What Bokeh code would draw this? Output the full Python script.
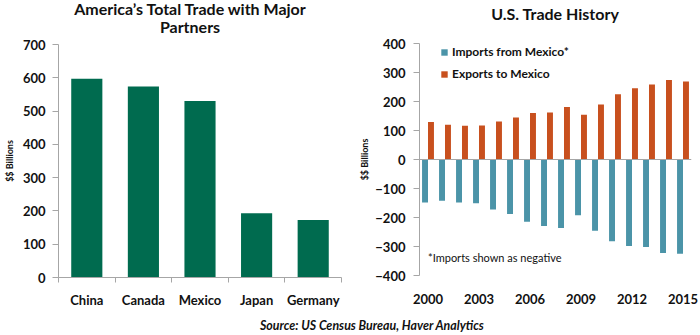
from bokeh.plotting import figure
from bokeh.models import (ColumnDataSource, FixedTicker, Range1d, Span,
                          Legend, LegendItem, Label, Div)
from bokeh.layouts import row, column
from bokeh.embed import file_html
from bokeh.resources import INLINE

# ---- data ----
partners = ["China", "Canada", "Mexico", "Japan", "Germany"]
total_trade = [597, 574, 530, 193, 173]

years = list(range(2000, 2016))
imports_mexico = [-148, -142, -148, -151, -172, -188, -215, -229, -236, -192,
                  -246, -282, -298, -302, -322, -325]
exports_mexico = [129, 120, 116, 117, 131, 145, 160, 162, 181, 154,
                  190, 225, 246, 259, 274, 269]
year_ticks = [2000, 2003, 2006, 2009, 2012, 2015]
left_ticks = [0, 100, 200, 300, 400, 500, 600, 700]
right_ticks = [-400, -300, -200, -100, 0, 100, 200, 300, 400]

FONT = "Lato"
GREEN = "#006B4F"
ORANGE = "#C8501E"
TEAL = "#4B94A8"
AXIS = "#A6A6A6"
TXT = "#111111"
TICK_FS = "13px"


def style_axis(ax):
    ax.major_label_text_font = FONT
    ax.major_label_text_font_style = "bold"
    ax.major_label_text_font_size = TICK_FS
    ax.major_label_text_color = TXT
    ax.axis_label_text_font = FONT
    ax.axis_label_text_font_style = "bold"
    ax.axis_label_text_font_size = "9px"
    ax.axis_label_text_color = TXT


# ---- left chart ----
p1 = figure(width=350, height=276, output_backend="svg", toolbar_location=None,
            x_range=Range1d(0, 5), y_range=Range1d(0, 700),
            min_border_left=56, min_border_right=9, min_border_top=6,
            min_border_bottom=37)
p1.outline_line_color = None
p1.xgrid.visible = False
p1.ygrid.visible = False

src1 = ColumnDataSource(dict(x=[i + 0.5 for i in range(len(partners))],
                             top=total_trade))
p1.vbar(x="x", top="top", width=0.55, bottom=0, source=src1,
        fill_color=GREEN, line_color=None)

p1.xaxis.ticker = FixedTicker(ticks=[i + 0.5 for i in range(len(partners))],
                              minor_ticks=list(range(len(partners) + 1)))
p1.xaxis.major_label_overrides = {i + 0.5: n for i, n in enumerate(partners)}
p1.xaxis.major_tick_line_color = None
p1.xaxis.minor_tick_in = 0
p1.xaxis.minor_tick_out = 5
p1.xaxis.minor_tick_line_color = AXIS
p1.xaxis.axis_line_color = AXIS
p1.xaxis.major_label_standoff = 8

p1.yaxis.ticker = FixedTicker(ticks=left_ticks)
p1.yaxis.minor_tick_line_color = None
p1.yaxis.major_tick_in = 0
p1.yaxis.major_tick_out = 6
p1.yaxis.major_tick_line_color = AXIS
p1.yaxis.axis_line_color = AXIS
p1.yaxis.major_label_standoff = 7
p1.yaxis.axis_label = "$$ Billions"
p1.yaxis.axis_label_standoff = 5
style_axis(p1.xaxis)
style_axis(p1.yaxis)

title1 = Div(text="America\u2019s Total Trade with Major<br>Partners",
             width=300, height=38, margin=(0, 0, 0, 40),
             styles={"font-family": FONT, "font-size": "16px",
                     "font-weight": "bold", "color": TXT,
                     "line-height": "18px", "text-align": "center"})

# ---- right chart ----
p2 = figure(width=350, height=287, output_backend="svg", toolbar_location=None,
            x_range=Range1d(1999.5, 2015.5), y_range=Range1d(-400, 400),
            min_border_left=69, min_border_right=9, min_border_top=15,
            min_border_bottom=40)
p2.outline_line_color = None
p2.xgrid.visible = False
p2.ygrid.visible = False

src2 = ColumnDataSource(dict(x_imp=[y - 0.175 for y in years],
                             x_exp=[y + 0.175 for y in years],
                             imp=imports_mexico, exp=exports_mexico))
r_imp = p2.vbar(x="x_imp", top="imp", bottom=0, width=0.35, source=src2,
                fill_color=TEAL, line_color=None)
r_exp = p2.vbar(x="x_exp", top="exp", bottom=0, width=0.35, source=src2,
                fill_color=ORANGE, line_color=None)
p2.add_layout(Span(location=0, dimension="width", line_color=AXIS,
                   line_width=1))

p2.xaxis.ticker = FixedTicker(ticks=year_ticks)
p2.xaxis.minor_tick_line_color = None
p2.xaxis.major_tick_line_color = None
p2.xaxis.axis_line_color = None
p2.xaxis.major_label_standoff = 12

p2.yaxis.ticker = FixedTicker(ticks=right_ticks)
p2.yaxis.minor_tick_line_color = None
p2.yaxis.major_tick_in = 0
p2.yaxis.major_tick_out = 6
p2.yaxis.major_tick_line_color = AXIS
p2.yaxis.axis_line_color = AXIS
p2.yaxis.major_label_standoff = 8
p2.yaxis.axis_label = "$$ Billions"
p2.yaxis.axis_label_standoff = 2
style_axis(p2.xaxis)
style_axis(p2.yaxis)

title2 = Div(text="U.S. Trade History", width=300, height=28,
             margin=(0, 0, 0, 55),
             styles={"font-family": FONT, "font-size": "16px",
                     "font-weight": "bold", "color": TXT,
                     "line-height": "28px", "text-align": "center"})

legend = Legend(items=[LegendItem(label="Imports from Mexico*", renderers=[r_imp]),
                       LegendItem(label="Exports to Mexico", renderers=[r_exp])],
                location=(21, 194), orientation="vertical",
                background_fill_alpha=0, border_line_color=None,
                glyph_width=8, glyph_height=8, label_height=8, spacing=7,
                label_standoff=4, padding=0, margin=0,
                label_text_font=FONT, label_text_font_size="12px",
                label_text_font_style="bold", label_text_color=TXT)
p2.add_layout(legend, "center")

note = Label(x=2000.0, y=-338, text="*Imports shown as negative",
             text_font=FONT, text_font_size="11px", text_color=TXT,
             text_baseline="middle", text_align="left")
p2.add_layout(note)

source = Div(text="<i><b>Source: US Census Bureau, Haver Analytics</b></i>",
             width=440, height=20, margin=(1, 0, 0, 260),
             styles={"font-family": FONT, "font-size": "12.4px",
                     "color": TXT, "line-height": "20px"})

layout = column(row(column(title1, p1), column(title2, p2)), source)

open("out.html", "w").write(file_html(layout, INLINE))
